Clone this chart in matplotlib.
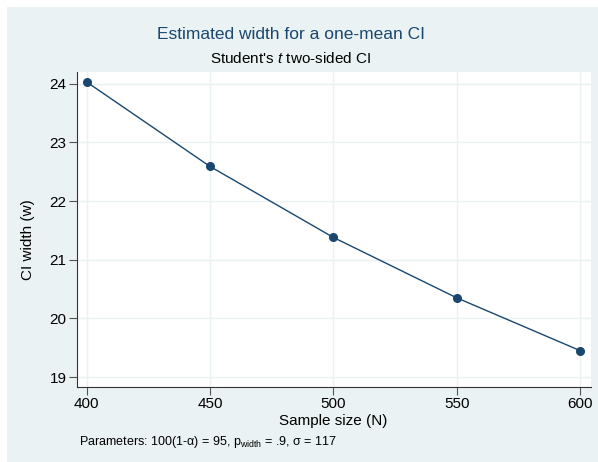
import matplotlib
matplotlib.use("Agg")
import matplotlib.pyplot as plt
from matplotlib.patches import Rectangle

plt.rcParams['font.family'] = ['Liberation Sans', 'DejaVu Sans']
plt.rcParams['mathtext.fontset'] = 'custom'
plt.rcParams['mathtext.rm'] = 'Liberation Sans'
plt.rcParams['mathtext.it'] = 'Liberation Sans:italic'
plt.rcParams['mathtext.default'] = 'regular'

sample_sizes = [400, 450, 500, 550, 600]
ci_widths = [24.03, 22.59, 21.38, 20.35, 19.45]
x_ticks = [400, 450, 500, 550, 600]
y_ticks = [19, 20, 21, 22, 23, 24]

navy = '#1a476f'
bg = '#eaf2f3'

W, H = 598, 462
fig = plt.figure(figsize=(W / 100, H / 100), dpi=100)
fig.patch.set_facecolor('white')
fig.patches.append(Rectangle((7 / W, 0), 1 - 7 / W, 1 - 7 / H, transform=fig.transFigure,
                             facecolor=bg, edgecolor='none', zorder=-10))

ax = fig.add_axes([77 / W, 1 - 386.7 / H, (590.7 - 77) / W, (386.7 - 72) / H])
ax.set_facecolor('white')
ax.plot(sample_sizes, ci_widths, color=navy, lw=1.0, marker='o', markersize=5.5,
        markerfacecolor=navy, markeredgecolor=navy, zorder=3, clip_on=False)

ax.set_xlim(396.1, 604.3)
ax.set_ylim(18.835, 24.2)
ax.set_xticks(x_ticks)
ax.set_yticks(y_ticks)
ax.set_xticklabels([str(v) for v in x_ticks], fontsize=11)
ax.set_yticklabels([str(v) for v in y_ticks], fontsize=11, rotation=0)
ax.grid(True, color=bg, lw=1.0, zorder=0)
ax.set_axisbelow(True)
for s in ['top', 'right']:
    ax.spines[s].set_visible(False)
for s in ['left', 'bottom']:
    ax.spines[s].set_color('#333333')
    ax.spines[s].set_linewidth(0.8)
ax.tick_params(axis='both', length=5.5, width=0.8, color='#555555', labelcolor='black', pad=2)

fig.text(291 / W, 1 - 34.5 / H, 'Estimated width for a one-mean CI', ha='center', va='center',
         fontsize=12.5, color=navy)
fig.text(291 / W, 1 - 58.5 / H, "Student's $\\mathit{t}$ two-sided CI", ha='center', va='center',
         fontsize=11, color='black')
fig.text(333 / W, 1 - 420.7 / H, 'Sample size (N)', ha='center', va='center', fontsize=11)
fig.text(28 / W, 1 - 240 / H, 'CI width (w)', ha='center', va='center', fontsize=11, rotation=90)
fig.text(79 / W, 1 - 441.7 / H, 'Parameters: 100(1-α) = 95, p$_{width}$ = .9, σ = 117',
         ha='left', va='center', fontsize=9)

fig.savefig('out.png', dpi=100, facecolor=fig.get_facecolor())
